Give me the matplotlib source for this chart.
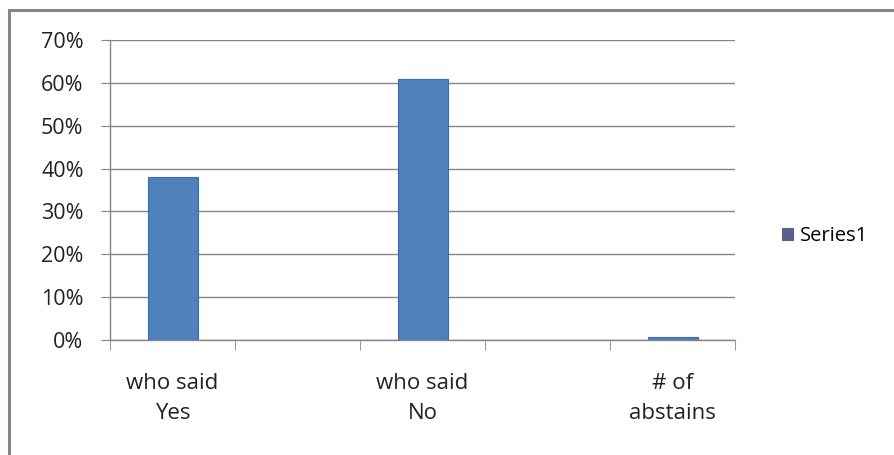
import numpy as np
import matplotlib.pyplot as plt
from matplotlib.patches import Rectangle
from matplotlib.ticker import PercentFormatter

# 5 category slots, the chart only fills 1, 3 and 5
categories = ['who said\nYes', '', 'who said\nNo', '', '# of\nabstains']
values = [0.38, np.nan, 0.61, np.nan, 0.006]
series_name = 'Series1'

plt.rcParams['font.family'] = ['Open Sans', 'DejaVu Sans']

fig = plt.figure(figsize=(8.94, 4.55), dpi=100)
ax = fig.add_axes([110 / 894, 1 - 340 / 455, 625 / 894, 300 / 455])

# outer chart border (runs off the right and bottom edges)
fig.patches.append(Rectangle((9 / 894, -0.05), 1.2, 1 - 10 / 455 + 0.05,
                             transform=fig.transFigure, fill=False,
                             edgecolor='#858585', linewidth=2.2, zorder=0))

x = np.arange(len(categories))
ax.bar(x, values, width=0.4, color='#4f81bd', edgecolor='#3f6ea6',
       linewidth=0.8, zorder=3, label=series_name)

ax.set_xlim(-0.5, len(categories) - 0.5)
ax.set_ylim(0, 0.70)
ax.set_yticks(np.arange(0, 0.71, 0.10))
ax.yaxis.set_major_formatter(PercentFormatter(1.0, decimals=0))
ax.grid(axis='y', color='#868686', linewidth=1.0, zorder=0)

ax.set_xticks(x)
ax.set_xticklabels(categories, fontsize=16, linespacing=1.55, color='#222222')
ax.set_xticks(np.arange(-0.5, len(categories), 1.0), minor=True)
ax.tick_params(axis='x', which='major', length=0, pad=24)
ax.tick_params(axis='x', which='minor', length=7, color='#868686', direction='out')
ax.tick_params(axis='y', length=6.5, color='#868686', labelsize=15.5,
               labelcolor='#222222', pad=12.5)

for side in ['top', 'right']:
    ax.spines[side].set_visible(False)
for side in ['left', 'bottom']:
    ax.spines[side].set_color('#868686')
    ax.spines[side].set_linewidth(1.0)

leg = fig.legend(loc='center left', bbox_to_anchor=(764 / 894, 1 - 236 / 455),
                 frameon=False, fontsize=14.5, handlelength=0.55, handleheight=0.55,
                 handletextpad=0.35)
for h in leg.legend_handles:
    h.set_color('#5b5f8c')

fig.savefig('out.png', dpi=100)
